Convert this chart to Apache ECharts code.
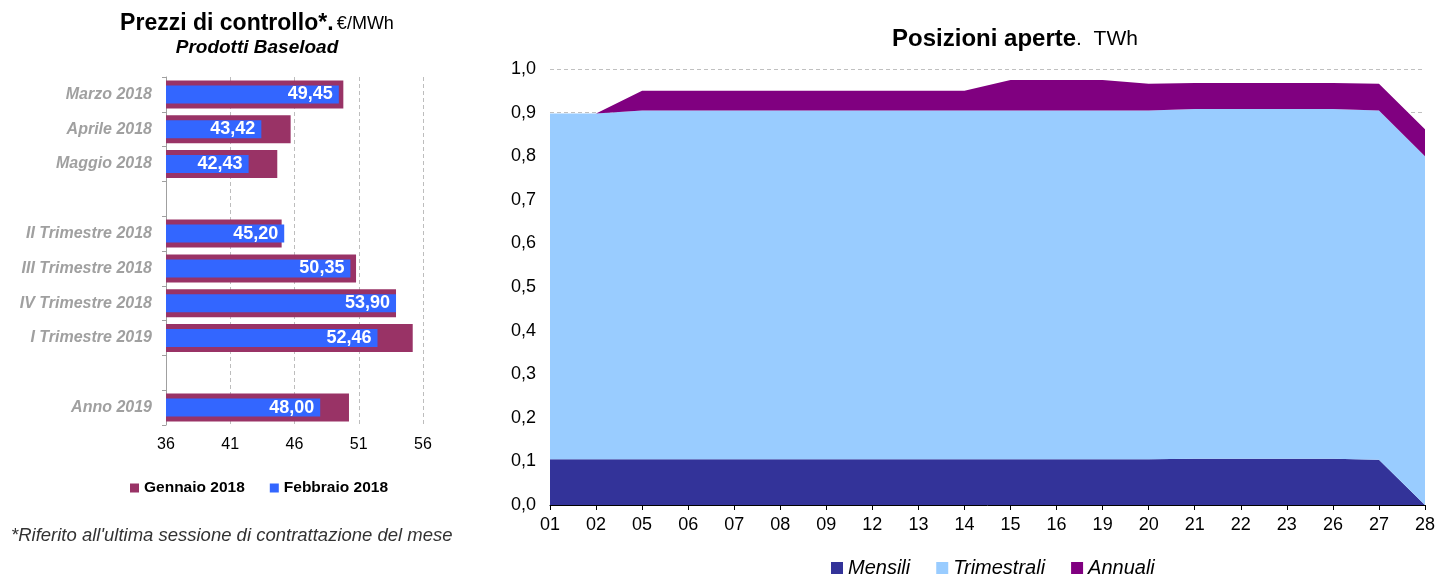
<!DOCTYPE html>
<html>
<head>
<meta charset="utf-8">
<script src="https://cdn.jsdelivr.net/npm/echarts@6/dist/echarts.min.js"></script>
<style>
  html, body { margin: 0; padding: 0; background: #ffffff; }
  #chart { width: 1439px; height: 574px; }
</style>
</head>
<body>
<div id="chart"></div>
<script>
// --- Prezzi di controllo (€/MWh), prodotti baseload ---
const productLabels = [
  'Marzo 2018', 'Aprile 2018', 'Maggio 2018', '',
  'II Trimestre 2018', 'III Trimestre 2018', 'IV Trimestre 2018', 'I Trimestre 2019', '',
  'Anno 2019'
];
const gennaio2018 = [49.80, 45.70, 44.66, null, 45.00, 50.79, 53.90, 55.20, null, 50.24];
const febbraio2018 = [49.45, 43.42, 42.43, null, 45.20, 50.35, 53.90, 52.46, null, 48.00];
const priceTicks = [36, 41, 46, 51, 56];

// --- Posizioni aperte (TWh) per giorno di contrattazione ---
const tradingDays = ['01','02','05','06','07','08','09','12','13','14',
                     '15','16','19','20','21','22','23','26','27','28'];
const mensili     = [0.105,0.105,0.105,0.105,0.105,0.105,0.105,0.105,0.105,0.105,
                     0.105,0.105,0.105,0.105,0.106,0.106,0.106,0.106,0.104,0.000];
const trimestrali = [0.793,0.793,0.800,0.800,0.800,0.800,0.800,0.800,0.800,0.800,
                     0.800,0.800,0.800,0.800,0.802,0.802,0.802,0.802,0.801,0.800];
const annuali     = [0.000,0.000,0.045,0.045,0.045,0.045,0.045,0.045,0.045,0.045,
                     0.070,0.070,0.070,0.061,0.060,0.060,0.060,0.060,0.061,0.062];

const FONT = '"Liberation Sans", Arial, sans-serif';
const comma = (v, d) => v.toFixed(d).replace('.', ',');

const chart = echarts.init(document.getElementById('chart'), null, { renderer: 'canvas' });

chart.setOption({
  animation: false,
  textStyle: { fontFamily: FONT },
  grid: [
    { left: 166, right: 1439 - 423, top: 77, bottom: 574 - 425, containLabel: false },
    { left: 550, right: 1439 - 1425, top: 69, bottom: 574 - 505, containLabel: false }
  ],
  graphic: [
    {
      type: 'text', x: 257, y: 24,
      style: {
        align: 'center', verticalAlign: 'middle',
        text: '{b|Prezzi di controllo*.} {n|€/MWh}',
        rich: {
          b: { fontFamily: FONT, fontSize: 23, fontWeight: 'bold', fill: '#000' },
          n: { fontFamily: FONT, fontSize: 18, fill: '#000' }
        }
      }
    },
    {
      type: 'text', x: 257, y: 48,
      style: {
        align: 'center', verticalAlign: 'middle',
        text: 'Prodotti Baseload',
        font: 'italic bold 19px ' + FONT, fill: '#000'
      }
    },
    {
      type: 'text', x: 1015, y: 39,
      style: {
        align: 'center', verticalAlign: 'middle',
        text: '{b|Posizioni aperte}{n|.  TWh}',
        rich: {
          b: { fontFamily: FONT, fontSize: 24, fontWeight: 'bold', fill: '#000' },
          n: { fontFamily: FONT, fontSize: 21, fill: '#000' }
        }
      }
    },
    {
      type: 'text', x: 11, y: 536,
      style: {
        align: 'left', verticalAlign: 'middle',
        text: "*Riferito all'ultima sessione di contrattazione del mese",
        font: 'italic 18.5px ' + FONT, fill: '#333'
      }
    }
  ],
  legend: [
    {
      left: 125, top: 475, itemWidth: 9, itemHeight: 9, itemGap: 25,
      icon: 'rect',
      data: ['Gennaio 2018', 'Febbraio 2018'],
      textStyle: { fontFamily: FONT, fontSize: 15.5, fontWeight: 'bold', color: '#000' }
    },
    {
      left: 826, top: 553, itemWidth: 12, itemHeight: 12, itemGap: 26,
      icon: 'rect',
      data: ['Mensili', 'Trimestrali', 'Annuali'],
      textStyle: { fontFamily: FONT, fontSize: 20, fontStyle: 'italic', color: '#000' }
    }
  ],
  xAxis: [
    {
      gridIndex: 0, type: 'value', min: priceTicks[0], max: priceTicks[priceTicks.length - 1], interval: 5,
      axisLine: { show: false }, axisTick: { show: false },
      axisLabel: { fontFamily: FONT, fontSize: 16, color: '#000', margin: 12 },
      splitLine: { show: true, lineStyle: { color: '#bdbdbd', type: [4, 3], width: 1 } }
    },
    {
      gridIndex: 1, type: 'category', data: tradingDays, boundaryGap: false,
      axisLine: { show: true, lineStyle: { color: '#000', width: 1 } },
      axisTick: { show: true, length: 5, lineStyle: { color: '#000' } },
      axisLabel: { fontFamily: FONT, fontSize: 18, color: '#000', margin: 11 },
      splitLine: { show: false }
    }
  ],
  yAxis: [
    {
      gridIndex: 0, type: 'category', data: productLabels, inverse: true,
      axisLine: { show: true, lineStyle: { color: '#a0a0a0', width: 1 } },
      axisTick: { show: true, length: 4, lineStyle: { color: '#a0a0a0' } },
      axisLabel: { fontFamily: FONT, fontSize: 16, fontWeight: 'bold', fontStyle: 'italic', color: '#a0a0a0', margin: 14 }
    },
    {
      gridIndex: 1, type: 'value', min: 0, max: 1, interval: 0.1,
      axisLine: { show: false }, axisTick: { show: false },
      axisLabel: { fontFamily: FONT, fontSize: 18, color: '#000', margin: 14, formatter: v => comma(v, 1) },
      splitLine: { show: true, lineStyle: { color: '#c0c0c0', type: [4, 3], width: 1 } }
    },
    {
      // twin of the product axis so the narrower bars sit centred on the wider ones
      gridIndex: 0, type: 'category', data: productLabels, inverse: true, show: false
    }
  ],
  series: [
    {
      name: 'Gennaio 2018', type: 'bar', xAxisIndex: 0, yAxisIndex: 0,
      data: gennaio2018, barWidth: 28,
      itemStyle: { color: '#993366' }
    },
    {
      name: 'Febbraio 2018', type: 'bar', xAxisIndex: 0, yAxisIndex: 2,
      data: febbraio2018, barWidth: 18, z: 3,
      itemStyle: { color: '#3366ff' },
      label: {
        show: true, position: 'insideRight', distance: 6,
        fontFamily: FONT, fontSize: 18, fontWeight: 'bold', color: '#fff',
        formatter: p => comma(p.value, 2)
      }
    },
    {
      name: 'Mensili', type: 'line', xAxisIndex: 1, yAxisIndex: 1, stack: 'pos',
      data: mensili, symbol: 'none', lineStyle: { width: 0 },
      itemStyle: { color: '#333399' }, areaStyle: { color: '#333399', opacity: 1 }
    },
    {
      name: 'Trimestrali', type: 'line', xAxisIndex: 1, yAxisIndex: 1, stack: 'pos',
      data: trimestrali, symbol: 'none', lineStyle: { width: 0 },
      itemStyle: { color: '#99ccff' }, areaStyle: { color: '#99ccff', opacity: 1 }
    },
    {
      name: 'Annuali', type: 'line', xAxisIndex: 1, yAxisIndex: 1, stack: 'pos',
      data: annuali, symbol: 'none', lineStyle: { width: 0 },
      itemStyle: { color: '#800080' }, areaStyle: { color: '#800080', opacity: 1 }
    }
  ]
});
</script>
</body>
</html>
